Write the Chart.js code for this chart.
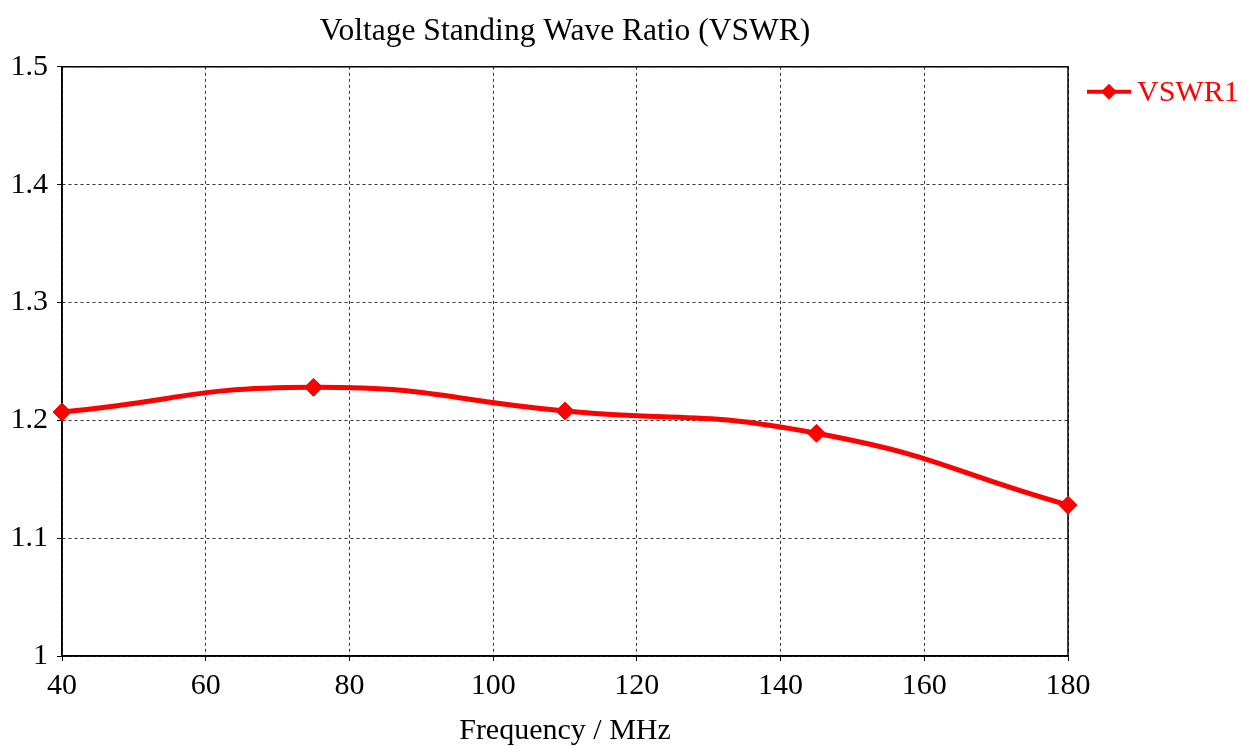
<!DOCTYPE html>
<html>
<head>
<meta charset="utf-8">
<script src="https://cdn.jsdelivr.net/npm/chart.js@4/dist/chart.umd.min.js"></script>
<style>
  html, body { margin: 0; padding: 0; background: #fff; }
  #wrap { width: 1242px; height: 746px; position: relative; }
</style>
</head>
<body>
<div id="wrap"><canvas id="vswrChart"></canvas></div>
<script>
const freqMHz = [40, 75, 110, 145, 180];
const vswr1 = [1.207, 1.228, 1.208, 1.189, 1.128];
const xTicks = [40, 60, 80, 100, 120, 140, 160, 180];
const yTicks = [1, 1.1, 1.2, 1.3, 1.4, 1.5];

const serif = "'Liberation Serif', 'Times New Roman', serif";
const red = "#ff0000";

// solid frame round the plot area
const frame = {
  id: "frame",
  beforeDatasetsDraw(chart) {
    const { ctx, chartArea: a } = chart;
    ctx.save();
    ctx.setLineDash([]);
    ctx.strokeStyle = "#000";
    ctx.lineWidth = 1.5;
    ctx.strokeRect(a.left, a.top, a.right - a.left, a.bottom - a.top);
    ctx.restore();
  }
};

// legend: line with diamond, then label
const sideLegend = {
  id: "sideLegend",
  afterDraw(chart) {
    const { ctx, chartArea: a } = chart;
    const ds = chart.data.datasets[0];
    const x0 = a.right + 19, y = a.top + 25;
    ctx.save();
    ctx.strokeStyle = red;
    ctx.fillStyle = red;
    ctx.lineWidth = 4;
    ctx.beginPath();
    ctx.moveTo(x0, y);
    ctx.lineTo(x0 + 44, y);
    ctx.stroke();
    const cx = x0 + 22, r = 8;
    ctx.beginPath();
    ctx.moveTo(cx - r, y); ctx.lineTo(cx, y - r); ctx.lineTo(cx + r, y); ctx.lineTo(cx, y + r);
    ctx.closePath();
    ctx.fill();
    ctx.font = "30px " + serif;
    ctx.textBaseline = "middle";
    ctx.textAlign = "left";
    ctx.fillText(ds.label, x0 + 50, y + 1);
    ctx.restore();
  }
};

const gridOpts = { color: "#333", lineWidth: 1, tickLength: 5, tickBorderDash: [], tickColor: "#000" };
const borderOpts = { display: true, color: "#000", width: 1.5, dash: [3, 3] };

new Chart(document.getElementById("vswrChart"), {
  type: "line",
  data: {
    datasets: [{
      label: "VSWR1",
      data: freqMHz.map((f, i) => ({ x: f, y: vswr1[i] })),
      borderColor: red,
      backgroundColor: red,
      borderWidth: 5,
      tension: 0.5,
      pointStyle: "rectRot",
      pointRadius: 9,
      pointBorderWidth: 1,
      pointBackgroundColor: red,
      pointBorderColor: red,
      clip: false
    }]
  },
  options: {
    responsive: true,
    maintainAspectRatio: false,
    animation: false,
    layout: { padding: { left: 0, right: 174, top: 0, bottom: 0 } },
    plugins: {
      legend: { display: false },
      tooltip: { enabled: false },
      title: {
        display: true,
        fullSize: false,
        text: "Voltage Standing Wave Ratio (VSWR)",
        color: "#000",
        font: { family: serif, size: 31.5, weight: "normal" },
        padding: { top: 13, bottom: 16 }
      }
    },
    scales: {
      x: {
        type: "linear",
        min: 40,
        max: 180,
        afterBuildTicks: s => { s.ticks = xTicks.map(v => ({ value: v })); },
        afterFit: s => { s.height = 90; },
        ticks: { color: "#000", font: { family: serif, size: 30 }, padding: 7, maxRotation: 0 },
        grid: gridOpts,
        border: borderOpts,
        title: {
          display: true,
          text: "Frequency / MHz",
          color: "#000",
          font: { family: serif, size: 30, lineHeight: 1 },
          padding: { top: 4, bottom: 0 }
        }
      },
      y: {
        min: 1,
        max: 1.5,
        afterBuildTicks: s => { s.ticks = yTicks.map(v => ({ value: v })); },
        afterFit: s => { s.width = 62; },
        ticks: { color: "#000", font: { family: serif, size: 30 }, padding: 9, callback: v => String(+v.toFixed(1)) },
        grid: gridOpts,
        border: borderOpts
      }
    }
  },
  plugins: [frame, sideLegend]
});
</script>
</body>
</html>
